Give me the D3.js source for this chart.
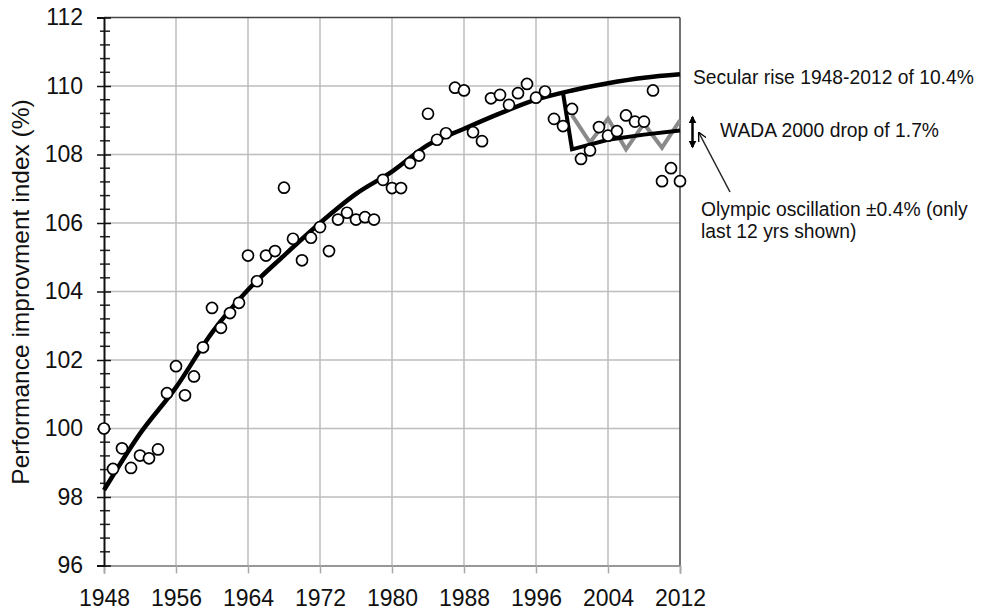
<!DOCTYPE html>
<html>
<head>
<meta charset="utf-8">
<script src="https://cdn.jsdelivr.net/npm/d3@7"></script>
<style>
  body { margin: 0; background: #fff; }
  svg { display: block; font-family: "Liberation Sans", Arial, sans-serif; }
</style>
</head>
<body>
<div id="chart"></div>
<script>
// yearly performance index points
const pointYears = [
  1948, 1949, 1950, 1951, 1952, 1953, 1954, 1955, 1956, 1957, 1958, 1959,
  1960, 1961, 1962, 1963, 1964, 1965, 1966, 1967, 1968, 1969, 1970, 1971,
  1972, 1973, 1974, 1975, 1976, 1977, 1978, 1979, 1980, 1981, 1982, 1983,
  1984, 1985, 1986, 1987, 1988, 1989, 1990, 1991, 1992, 1993, 1994, 1995,
  1996, 1997, 1998, 1999, 2000, 2001, 2002, 2003, 2004, 2005, 2006, 2007,
  2008, 2009, 2010, 2011, 2012
];
const pointValues = [
  100.0, 98.82, 99.42, 98.85, 99.21, 99.13, 99.39, 101.03, 101.82, 100.97, 101.52, 102.37,
  103.52, 102.94, 103.37, 103.67, 105.05, 104.3, 105.05, 105.18, 107.03, 105.54, 104.91, 105.57,
  105.88, 105.18, 106.1, 106.3, 106.1, 106.17, 106.1, 107.26, 107.02, 107.02, 107.75, 107.97,
  109.19, 108.43, 108.62, 109.95, 109.87, 108.65, 108.39, 109.64, 109.74, 109.45, 109.79, 110.06,
  109.66, 109.84, 109.04, 108.83, 109.33, 107.87, 108.12, 108.8, 108.55, 108.68, 109.14, 108.96,
  108.96, 109.87, 107.22, 107.6, 107.22
];

// secular trend curve
const trendYears = [1948, 1952, 1956, 1960, 1964, 1968, 1972, 1976, 1980, 1984, 1988, 1992, 1996, 2000, 2004, 2008, 2012];
const trendValues = [98.2, 99.85, 101.2, 102.8, 104.05, 105.05, 106.0, 106.85, 107.5, 108.28, 108.75, 109.2, 109.6, 109.87, 110.08, 110.24, 110.34];

// WADA drop line
const wadaYears = [1999, 2000, 2004, 2008, 2012];
const wadaValues = [109.8, 108.15, 108.43, 108.58, 108.7];

// olympic oscillation (gray zigzag)
const olympicYears = [2000, 2002, 2004, 2006, 2008, 2010, 2012];
const olympicValues = [109.15, 108.35, 109.05, 108.15, 108.9, 108.2, 109.0];

const xTicks = [1948, 1956, 1964, 1972, 1980, 1988, 1996, 2004, 2012];
const yTicks = [96, 98, 100, 102, 104, 106, 108, 110, 112];

const width = 981, height = 615;
const plot = { left: 104, right: 680, top: 17.5, bottom: 565.5 };

const svg = d3.select("#chart").append("svg")
  .attr("width", width)
  .attr("height", height);

const x = d3.scaleLinear().domain([1948, 2012]).range([plot.left, plot.right]);
const y = d3.scaleLinear().domain([96, 112]).range([plot.bottom, plot.top]);

// grid
svg.append("g")
  .selectAll("line")
  .data(yTicks.slice(1, -1))
  .join("line")
  .attr("x1", plot.left).attr("x2", plot.right)
  .attr("y1", d => y(d)).attr("y2", d => y(d))
  .attr("stroke", "#bdbdbd").attr("stroke-width", 1.5);

svg.append("g")
  .selectAll("line")
  .data(xTicks.slice(1, -1))
  .join("line")
  .attr("x1", d => x(d)).attr("x2", d => x(d))
  .attr("y1", plot.top).attr("y2", plot.bottom)
  .attr("stroke", "#bdbdbd").attr("stroke-width", 1.5);

// frame: top and right
svg.append("line")
  .attr("x1", plot.left).attr("x2", plot.right)
  .attr("y1", plot.top).attr("y2", plot.top)
  .attr("stroke", "#444").attr("stroke-width", 1.5);
svg.append("line")
  .attr("x1", plot.right).attr("x2", plot.right)
  .attr("y1", plot.top).attr("y2", plot.bottom)
  .attr("stroke", "#444").attr("stroke-width", 1.5);

// x axis
const xAxis = svg.append("g")
  .attr("transform", `translate(0,${plot.bottom})`)
  .call(d3.axisBottom(x).tickValues(xTicks).tickFormat(d3.format("d")).tickSize(8).tickPadding(16));
xAxis.select(".domain").attr("stroke", "#777").attr("stroke-width", 1.5);
xAxis.selectAll(".tick line").attr("stroke", "#aaa").attr("stroke-width", 1.5);
xAxis.selectAll("text")
  .attr("font-size", 23)
  .attr("font-family", "Liberation Sans, Arial, sans-serif")
  .attr("fill", "#111");

// y axis: minor ticks every 0.4
const minorTicks = d3.range(0, 41).map(i => 96 + i * 0.4).filter(v => Math.abs(v / 2 - Math.round(v / 2)) > 0.01);
svg.append("g")
  .selectAll("line")
  .data(minorTicks)
  .join("line")
  .attr("x1", plot.left - 4).attr("x2", plot.left + 6)
  .attr("y1", d => y(d)).attr("y2", d => y(d))
  .attr("stroke", "#222").attr("stroke-width", 1.5);

const yAxis = svg.append("g")
  .attr("transform", `translate(${plot.left},0)`)
  .call(d3.axisLeft(y).tickValues(yTicks).tickSize(7).tickPadding(14));
yAxis.select(".domain").attr("stroke", "#111").attr("stroke-width", 2);
yAxis.selectAll(".tick line").attr("stroke", "#111").attr("stroke-width", 1.5).attr("x2", 7).attr("x1", -7);
yAxis.selectAll("text")
  .attr("font-size", 23)
  .attr("font-family", "Liberation Sans, Arial, sans-serif")
  .attr("fill", "#111");

// y axis title
svg.append("text")
  .attr("transform", "translate(29,292) rotate(-90)")
  .attr("text-anchor", "middle")
  .attr("font-size", 24.5)
  .attr("fill", "#111")
  .text("Performance improvment index (%)");

const lineGen = d3.line()
  .x(d => x(d[0]))
  .y(d => y(d[1]));

// olympic oscillation
svg.append("path")
  .datum(olympicYears.map((yr, i) => [yr, olympicValues[i]]))
  .attr("d", lineGen)
  .attr("fill", "none")
  .attr("stroke", "#8a8a8a")
  .attr("stroke-width", 4)
  .attr("stroke-linejoin", "miter");

// secular trend
svg.append("path")
  .datum(trendYears.map((yr, i) => [yr, trendValues[i]]))
  .attr("d", lineGen.curve(d3.curveMonotoneX))
  .attr("fill", "none")
  .attr("stroke", "#000")
  .attr("stroke-width", 4.5);

// WADA drop
svg.append("path")
  .datum(wadaYears.map((yr, i) => [yr, wadaValues[i]]))
  .attr("d", d3.line().x(d => x(d[0])).y(d => y(d[1])))
  .attr("fill", "none")
  .attr("stroke", "#000")
  .attr("stroke-width", 4)
  .attr("stroke-linejoin", "miter");

// points
svg.append("g")
  .selectAll("circle")
  .data(pointYears.map((yr, i) => [yr, pointValues[i]]))
  .join("circle")
  .attr("cx", d => x(d[0]))
  .attr("cy", d => y(d[1]))
  .attr("r", 5.5)
  .attr("fill", "#fff")
  .attr("stroke", "#000")
  .attr("stroke-width", 1.7);

// annotations
const defs = svg.append("defs");
defs.append("marker")
  .attr("id", "head-solid")
  .attr("viewBox", "0 0 10 10")
  .attr("refX", 8).attr("refY", 5)
  .attr("markerWidth", 3.2).attr("markerHeight", 3.2)
  .attr("orient", "auto-start-reverse")
  .append("path").attr("d", "M0,0 L10,5 L0,10 Z").attr("fill", "#000");
defs.append("marker")
  .attr("id", "head-open")
  .attr("viewBox", "0 0 10 10")
  .attr("refX", 9).attr("refY", 5)
  .attr("markerWidth", 9).attr("markerHeight", 9)
  .attr("markerUnits", "userSpaceOnUse")
  .attr("orient", "auto")
  .append("path").attr("d", "M0,0 L10,5 L0,10").attr("fill", "none").attr("stroke", "#000").attr("stroke-width", 1.5);

svg.append("line")
  .attr("x1", 692.5).attr("x2", 692.5)
  .attr("y1", 117).attr("y2", 147)
  .attr("stroke", "#000").attr("stroke-width", 2.5)
  .attr("marker-start", "url(#head-solid)")
  .attr("marker-end", "url(#head-solid)");

svg.append("line")
  .attr("x1", 730).attr("x2", 699)
  .attr("y1", 192).attr("y2", 133)
  .attr("stroke", "#222").attr("stroke-width", 1.5)
  .attr("marker-end", "url(#head-open)");

const notes = [
  { text: "Secular rise 1948-2012 of 10.4%", x: 693, y: 84 },
  { text: "WADA 2000 drop of 1.7%", x: 720, y: 137 },
  { text: "Olympic oscillation \u00b10.4% (only", x: 701, y: 216 },
  { text: "last 12 yrs shown)", x: 701, y: 238 }
];
svg.append("g")
  .selectAll("text")
  .data(notes)
  .join("text")
  .attr("x", d => d.x)
  .attr("y", d => d.y)
  .attr("font-size", 19.3)
  .attr("fill", "#111")
  .text(d => d.text);
</script>
</body>
</html>
